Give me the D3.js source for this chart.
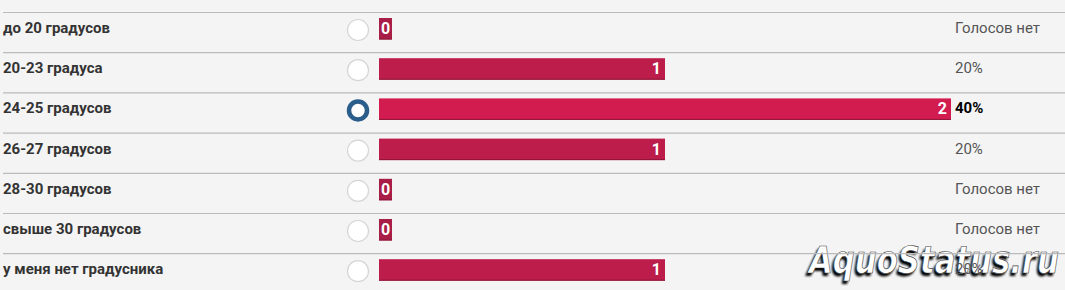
<!DOCTYPE html>
<html>
<head>
<meta charset="utf-8">
<script src="https://cdn.jsdelivr.net/npm/d3@7/dist/d3.min.js"></script>
<style>
  body { margin:0; background:#f4f4f4; }
  svg { display:block; font-family: Roboto, "Open Sans", sans-serif; }
</style>
</head>
<body>
<div id="poll"></div>
<script>
var width = 1065, height = 290;

var options = ["до 20 градусов","20-23 градуса","24-25 градусов","26-27 градусов","28-30 градусов","свыше 30 градусов","у меня нет градусника"];
var votes = [0,1,2,1,0,0,1];
var chosen = "24-25 градусов";
var noVotes = "Голосов нет";
var watermark = "AquoStatus.ru";

var total = d3.sum(votes);
var rows = options.map(function(d,i){ return {name:d, v:votes[i]}; });

var svg = d3.select("#poll").append("svg")
  .attr("width", width)
  .attr("height", height);

var defs = svg.append("defs");
defs.append("filter").attr("id","shade")
  .append("feGaussianBlur").attr("stdDeviation", 1.3);

var y = d3.scaleBand().domain(options).range([12, 12 + 40.2*options.length]);
var x = d3.scaleLinear().domain([0, d3.max(votes)]).range([379, 951]);

// watermark sits under the poll texts
var wm = svg.append("g").attr("font-size", "38px").attr("font-style", "italic")
  .attr("font-weight", "bold")
  .attr("font-family", "'DejaVu Sans', sans-serif");
wm.append("text")
  .attr("x", 807).attr("y", 276)
  .attr("fill", "#000")
  .attr("filter", "url(#shade)")
  .attr("textLength", 250).attr("lengthAdjust", "spacingAndGlyphs")
  .text(watermark);
wm.append("text")
  .attr("x", 809).attr("y", 273)
  .attr("fill", "#fff")
  .attr("stroke", "#444")
  .attr("stroke-width", 0.7)
  .attr("textLength", 250).attr("lengthAdjust", "spacingAndGlyphs")
  .text(watermark);

var row = svg.selectAll("g.row")
  .data(rows)
  .enter()
  .append("g")
  .attr("class","row")
  .attr("transform", function(d){ return "translate(0," + y(d.name) + ")"; });

row.append("line")
  .attr("x1", 3).attr("x2", width)
  .attr("y1", 0.5).attr("y2", 0.5)
  .attr("stroke", "#bababa")
  .attr("stroke-width", 1.2);

row.append("text")
  .attr("x", 3)
  .attr("y", 21)
  .attr("font-size", "15px")
  .attr("font-weight", "bold")
  .attr("fill", "#333")
  .text(function(d){ return d.name; });

// radio buttons
row.append("circle")
  .attr("cx", 358)
  .attr("cy", 18)
  .attr("r", function(d){ return d.name == chosen ? 9 : 10.5; })
  .attr("fill", "#fff")
  .attr("stroke", function(d){ return d.name == chosen ? "#2b5d8a" : "#d6d6d6"; })
  .attr("stroke-width", function(d){ return d.name == chosen ? 4.5 : 1.2; });

function barColor(d){
  if(d.v == 0) return "#a81e47";
  if(d.name == chosen) return "#d21b4f";
  return "#bd1d4b";
}

row.append("rect")
  .attr("x", x(0))
  .attr("y", 6)
  .attr("width", function(d){ return Math.max(x(d.v) - x(0), 13); })
  .attr("height", 21.5)
  .attr("fill", barColor);

row.append("rect")
  .attr("x", x(0))
  .attr("y", 26.5)
  .attr("width", function(d){ return Math.max(x(d.v) - x(0), 13); })
  .attr("height", 1)
  .attr("fill", "#8e1638");

row.append("text")
  .attr("x", function(d){ return d.v == 0 ? x(0) + 6.5 : x(d.v) - 4; })
  .attr("y", 22)
  .attr("text-anchor", function(d){ return d.v == 0 ? "middle" : "end"; })
  .attr("font-size", "16px")
  .attr("font-weight", "bold")
  .attr("fill", "#fff")
  .text(function(d){ return d.v; });

row.append("text")
  .attr("x", 955)
  .attr("y", 21)
  .attr("font-size", "15px")
  .attr("font-weight", function(d){ return d.name == chosen ? "bold" : "normal"; })
  .attr("fill", function(d){ return d.name == chosen ? "#000" : "#555"; })
  .text(function(d){ return d.v == 0 ? noVotes : Math.round(d.v/total*100) + "%"; });
</script>
</body>
</html>
